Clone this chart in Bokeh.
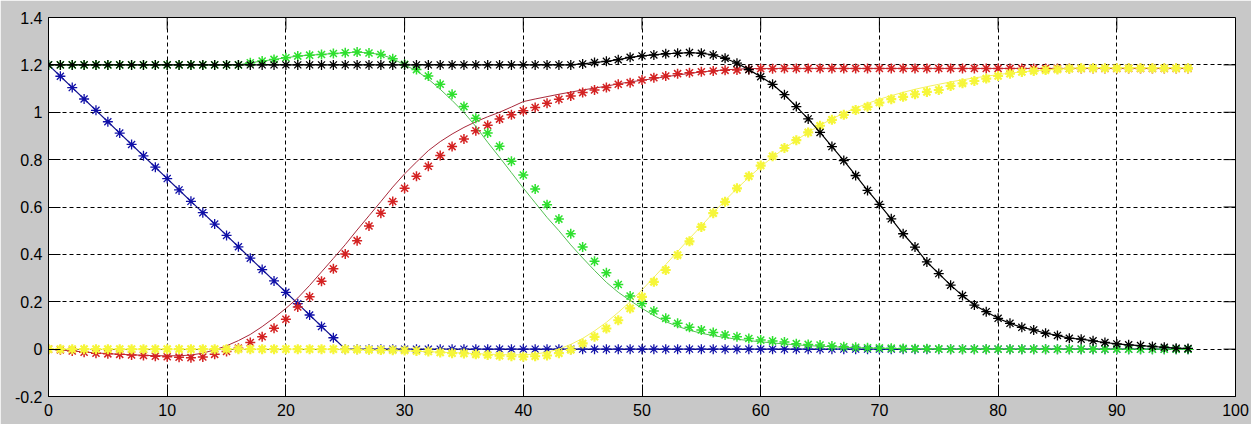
import math
from bokeh.plotting import figure
from bokeh.models import Range1d, FixedTicker
from bokeh.embed import file_html
from bokeh.resources import INLINE

# ---------------- data ----------------
x = list(range(97))

x_ticks = [0, 10, 20, 30, 40, 50, 60, 70, 80, 90, 100]
y_ticks = [-0.2, 0, 0.2, 0.4, 0.6, 0.8, 1, 1.2, 1.4]
y_tick_labels = ["-0.2", "0", "0.2", "0.4", "0.6", "0.8", "1", "1.2", "1.4"]

blue = [
    1.2, 1.152, 1.104, 1.056, 1.008, 0.96, 0.912, 0.864, 0.816, 0.768,
    0.72, 0.672, 0.624, 0.576, 0.528, 0.48, 0.432, 0.384, 0.336, 0.288,
    0.24, 0.192, 0.144, 0.096, 0.048, 0, 0, 0, 0, 0,
    0, 0, 0, 0, 0, 0, 0, 0, 0, 0,
    0, 0, 0, 0, 0, 0, 0, 0, 0, 0,
    0, 0, 0, 0, 0, 0, 0, 0, 0, 0,
    0, 0, 0, 0, 0, 0, 0, 0, 0, 0,
    0, 0, 0, 0, 0, 0, 0, 0, 0, 0,
    0, 0, 0, 0, 0, 0, 0, 0, 0, 0,
    0, 0, 0, 0, 0, 0, 0,
]

red_pts = [
    0, -0.003, -0.008, -0.013, -0.017, -0.02, -0.022, -0.025, -0.027, -0.03,
    -0.032, -0.034, -0.036, -0.033, -0.022, -0.01, 0.004, 0.028, 0.052, 0.088,
    0.126, 0.178, 0.221, 0.287, 0.339, 0.402, 0.458, 0.52, 0.574, 0.623,
    0.679, 0.73, 0.772, 0.817, 0.855, 0.887, 0.922, 0.945, 0.971, 0.989,
    1.006, 1.02, 1.038, 1.055, 1.069, 1.083, 1.094, 1.104, 1.118, 1.125,
    1.136, 1.146, 1.153, 1.163, 1.167, 1.171, 1.174, 1.177, 1.178, 1.181,
    1.184, 1.184, 1.185, 1.185, 1.185, 1.185, 1.185, 1.185, 1.185, 1.185,
    1.185, 1.185, 1.185, 1.185, 1.185, 1.185, 1.185, 1.185, 1.185, 1.185,
    1.185, 1.185, 1.185, 1.185, 1.185, 1.185, 1.185, 1.185, 1.185, 1.185,
    1.185, 1.185, 1.185, 1.185, 1.185, 1.185, 1.185,
]

red_fit = [
    0, -0.004, -0.008, -0.012, -0.016, -0.019, -0.022, -0.024, -0.026, -0.028,
    -0.028, -0.028, -0.025, -0.017, -0.003, 0.014, 0.036, 0.062, 0.095, 0.132,
    0.172, 0.216, 0.269, 0.326, 0.383, 0.441, 0.503, 0.563, 0.623, 0.684,
    0.74, 0.79, 0.838, 0.876, 0.908, 0.936, 0.96, 0.981, 1.0, 1.022,
    1.045, 1.056, 1.066, 1.076, 1.085, 1.094, 1.102, 1.11, 1.12, 1.128,
    1.135, 1.142, 1.15, 1.157, 1.164, 1.17, 1.175, 1.179, 1.182, 1.184,
    1.185, 1.185, 1.185, 1.185, 1.185, 1.185, 1.185, 1.185, 1.185, 1.185,
    1.185, 1.185, 1.185, 1.185, 1.185, 1.185, 1.185, 1.185, 1.185, 1.185,
    1.185, 1.185, 1.185, 1.185, 1.185, 1.185, 1.185, 1.185, 1.185, 1.185,
    1.185, 1.185, 1.185, 1.185, 1.185, 1.185, 1.185,
]

green_pts = [
    1.2, 1.2, 1.2, 1.2, 1.2, 1.2, 1.2, 1.2, 1.2, 1.2,
    1.2, 1.2, 1.2, 1.2, 1.2, 1.2, 1.2, 1.209, 1.216, 1.223,
    1.23, 1.237, 1.241, 1.244, 1.248, 1.251, 1.254, 1.25, 1.244, 1.226,
    1.202, 1.18, 1.153, 1.118, 1.076, 1.024, 0.975, 0.912, 0.856, 0.793,
    0.735, 0.676, 0.61, 0.549, 0.487, 0.431, 0.371, 0.322, 0.273, 0.224,
    0.193, 0.161, 0.13, 0.109, 0.092, 0.081, 0.07, 0.06, 0.052, 0.045,
    0.038, 0.034, 0.03, 0.023, 0.02, 0.017, 0.013, 0.01, 0.008, 0.006,
    0.005, 0.004, 0.003, 0.002, 0.002, 0.001, 0, 0, 0, 0,
    0, 0, 0, 0, 0, 0, 0, 0, 0, 0,
    0, 0, 0, 0, 0, 0, 0,
]

green_fit = [
    1.2, 1.2, 1.2, 1.2, 1.2, 1.2, 1.2, 1.2, 1.2, 1.2,
    1.2, 1.2, 1.2, 1.2, 1.2, 1.2, 1.2, 1.209, 1.216, 1.223,
    1.23, 1.237, 1.241, 1.244, 1.248, 1.251, 1.254, 1.25, 1.244, 1.226,
    1.2, 1.175, 1.14, 1.097, 1.05, 0.999, 0.94, 0.873, 0.81, 0.745,
    0.68, 0.618, 0.556, 0.5, 0.44, 0.385, 0.332, 0.282, 0.24, 0.205,
    0.172, 0.142, 0.116, 0.096, 0.08, 0.067, 0.057, 0.049, 0.042, 0.036,
    0.031, 0.026, 0.022, 0.018, 0.015, 0.012, 0.01, 0.008, 0.006, 0.005,
    0.004, 0.003, 0.002, 0.001, 0, 0, 0, 0, 0, 0,
    0, 0, 0, 0, 0, 0, 0, 0, 0, 0,
    0, 0, 0, 0, 0, 0, 0,
]

yellow_pts = [
    0, 0, 0, 0, 0, 0, 0, 0, 0, 0,
    0, 0, 0, 0, 0, 0, 0, 0, 0, 0,
    0, 0, 0, 0, 0, -0.001, -0.002, -0.003, -0.004, -0.005,
    -0.006, -0.008, -0.01, -0.014, -0.017, -0.018, -0.022, -0.025, -0.028, -0.03,
    -0.032, -0.03, -0.027, -0.017, -0.003, 0.024, 0.052, 0.087, 0.122, 0.172,
    0.221, 0.284, 0.334, 0.397, 0.455, 0.516, 0.574, 0.622, 0.679, 0.73,
    0.775, 0.814, 0.849, 0.882, 0.915, 0.943, 0.968, 0.989, 1.01, 1.023,
    1.041, 1.055, 1.065, 1.076, 1.086, 1.094, 1.111, 1.122, 1.132, 1.142,
    1.153, 1.163, 1.17, 1.174, 1.178, 1.181, 1.184, 1.186, 1.186, 1.186,
    1.186, 1.186, 1.186, 1.186, 1.186, 1.186, 1.186,
]

yellow_fit = [
    0, 0, 0, 0, 0, 0, 0, 0, 0, 0,
    0, 0, 0, 0, 0, 0, 0, 0, 0, 0,
    0, 0, 0, 0, 0, -0.002, -0.003, -0.004, -0.005, -0.006,
    -0.007, -0.009, -0.011, -0.013, -0.015, -0.017, -0.019, -0.021, -0.023, -0.024,
    -0.024, -0.021, -0.013, 0.0, 0.02, 0.045, 0.077, 0.113, 0.155, 0.2,
    0.25, 0.303, 0.357, 0.412, 0.467, 0.52, 0.575, 0.628, 0.678, 0.725,
    0.77, 0.81, 0.848, 0.882, 0.915, 0.945, 0.972, 0.996, 1.018, 1.037,
    1.055, 1.07, 1.084, 1.097, 1.108, 1.118, 1.128, 1.137, 1.145, 1.152,
    1.159, 1.165, 1.17, 1.175, 1.179, 1.182, 1.185, 1.188, 1.188, 1.188,
    1.188, 1.188, 1.188, 1.188, 1.188, 1.188, 1.188,
]

black = [
    1.2, 1.2, 1.2, 1.2, 1.2, 1.2, 1.2, 1.2, 1.2, 1.2,
    1.2, 1.2, 1.2, 1.2, 1.2, 1.2, 1.2, 1.2, 1.2, 1.2,
    1.2, 1.2, 1.2, 1.2, 1.2, 1.2, 1.2, 1.2, 1.2, 1.2,
    1.2, 1.2, 1.2, 1.2, 1.2, 1.2, 1.2, 1.2, 1.2, 1.2,
    1.2, 1.2, 1.2, 1.2, 1.2, 1.204, 1.21, 1.215, 1.222, 1.232,
    1.238, 1.242, 1.247, 1.249, 1.252, 1.249, 1.242, 1.228, 1.207, 1.18,
    1.15, 1.118, 1.074, 1.024, 0.972, 0.915, 0.855, 0.796, 0.733, 0.67,
    0.611, 0.55, 0.487, 0.431, 0.368, 0.319, 0.27, 0.226, 0.186, 0.158,
    0.13, 0.109, 0.092, 0.081, 0.067, 0.058, 0.046, 0.042, 0.035, 0.028,
    0.022, 0.018, 0.015, 0.011, 0.008, 0.004, 0.003,
]

# ---------------- figure ----------------
BG = "#c8c8c8"
FONT = "Liberation Sans"
X_MIN, X_MAX = 0, 100
Y_MIN, Y_MAX = -0.2, 1.4

p = figure(
    width=1251, height=424,
    x_range=Range1d(X_MIN, X_MAX), y_range=Range1d(Y_MIN, Y_MAX),
    output_backend="svg", toolbar_location=None,
    min_border_left=48, min_border_right=16,
    min_border_top=17, min_border_bottom=28,
    background_fill_color="white", border_fill_color=BG,
    outline_line_color="black", outline_line_width=1,
)

xax = p.below[0]
yax = p.left[0]
xax.ticker = FixedTicker(ticks=x_ticks)
yax.ticker = FixedTicker(ticks=y_ticks)
for ax in [xax, yax]:
    ax.major_tick_in = 12
    ax.major_tick_out = 0
    ax.minor_tick_in = 0
    ax.minor_tick_out = 0
    ax.major_tick_line_color = "black"
    ax.axis_line_color = "black"
    ax.major_label_text_font = FONT
    ax.major_label_text_font_size = "16px"
    ax.major_label_text_color = "black"
xax.major_label_standoff = 7
yax.major_label_standoff = 6
yax.major_label_overrides = {t: s for t, s in zip(y_ticks, y_tick_labels)}

p.xgrid.ticker = FixedTicker(ticks=x_ticks)
p.ygrid.ticker = FixedTicker(ticks=y_ticks)
for g in [p.xgrid[0], p.ygrid[0]]:
    g.grid_line_color = "black"
    g.grid_line_dash = "4 3"
    g.grid_line_width = 1
    g.grid_line_alpha = 1

# inward tick marks on the top and right edges of the box (MATLAB "box on")
p.ray(x=x_ticks, y=Y_MAX, length=12, length_units="screen",
      angle=-math.pi / 2, line_color="black", line_width=1)
p.ray(x=X_MAX, y=y_ticks, length=12, length_units="screen",
      angle=math.pi, line_color="black", line_width=1)

MS = 10

# blue
p.line(x, blue, line_color="#14148c", line_width=1.2)
p.scatter(x, blue, marker="asterisk", size=MS, line_color="#1010a8", line_width=1.3)

# red
p.line(x, red_fit, line_color="#a8283a", line_width=1)
p.scatter(x, red_pts, marker="asterisk", size=MS, line_color="#d42222", line_width=1.5)

# green
p.line(x, green_fit, line_color="#52c052", line_width=1)
p.scatter(x, green_pts, marker="asterisk", size=MS, line_color="#2ee02e", line_width=1.5)

# yellow
p.line(x, yellow_fit, line_color="#f4f060", line_width=1)
p.scatter(x, yellow_pts, marker="asterisk", size=MS, line_color="#f6f63a", line_width=2.2)

# black
p.line(x, black, line_color="black", line_width=1.2)
p.scatter(x, black, marker="asterisk", size=MS, line_color="black", line_width=1.3)

open("out.html", "w").write(file_html(p, INLINE))
